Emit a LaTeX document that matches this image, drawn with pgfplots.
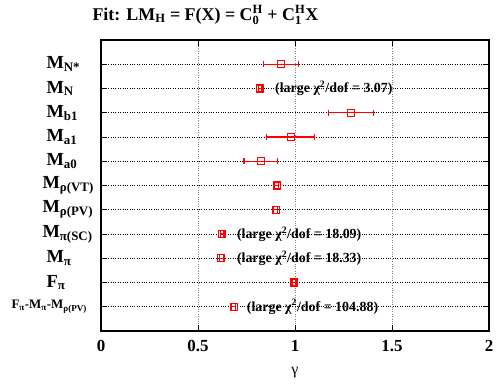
\documentclass[border=0pt]{standalone}
\usepackage{fontspec}
\setmainfont{Liberation Serif}
\usepackage{amsmath}
\usepackage{pgfplots}
\pgfplotsset{compat=1.18}
\usepackage{pgfplotstable}

\pgfplotstableread{
x y ex
0.926 11 0.090
0.820 10 0.010
1.289 9 0.115
0.978 8 0.123
0.823 7 0.086
0.906 6 0.010
0.900 5 0.010
0.624 4 0.010
0.620 3 0.010
0.995 2 0.010
0.684 1 0.010
}\datatable

\newcommand{\sub}[1]{$_{\text{#1}}$}
\begin{document}
\begin{tikzpicture}
\begin{axis}[
  scale only axis, width=388bp, height=291bp,
  xmin=0, xmax=2, ymin=0, ymax=12,
  clip=false,
  xtick={0,0.5,1,1.5,2},
  xticklabels={0,0.5,1,1.5,2},
  ytick={1,...,11},
  yticklabels={
    \hspace*{-35bp}{\fontsize{13}{13}\selectfont F\sub{π}-M\sub{π}-M\sub{ρ(PV)}},
    F\sub{π},
    M\sub{π},
    \hspace*{-4bp}M\sub{π(SC)},
    \hspace*{-4bp}M\sub{ρ(PV)},
    \hspace*{-4bp}M\sub{ρ(VT)},
    M\sub{a0},
    M\sub{a1},
    M\sub{b1},
    M\sub{N},
    M\sub{N*}},
  yticklabel style={anchor=west, xshift=-58bp, font=\bfseries\fontsize{18.5}{18.5}\selectfont},
  xticklabel style={font=\bfseries\fontsize{17}{17}\selectfont, yshift=-6bp},
  axis line style={line width=1.5pt},
  tick style={black, line width=1pt},
  major tick length=6bp,
  xmajorgrids, ymajorgrids,
  x grid style={gray, dotted, line width=0.8pt},
  y grid style={black, dotted, line width=0.8pt},
  xlabel={γ},
  xlabel style={at={(rel axis cs:0.5,0)}, anchor=center, yshift=-42bp, font=\fontsize{16}{16}\selectfont},
  title={Fit: LM\sub{H} = F(X) = C$_{\text{0}}^{\text{H}}$ + C$_{\text{1}}^{\text{H}}$X},
  title style={at={(rel axis cs:0,1)}, anchor=base west, xshift=-12bp, yshift=14bp, font=\bfseries\fontsize{18}{18}\selectfont},
]
\addplot[red, line width=1.2pt, mark=square, mark size=3.5bp, only marks,
  error bars/.cd, x dir=both, x explicit, error mark=|,
  error bar style={red, line width=1.3pt},
  error mark options={red, line width=1.2pt, mark size=3bp}]
  table[x=x, y=y, x error=ex] {\datatable};
\begin{scope}[every node/.style={anchor=west, font=\bfseries\fontsize{14}{14}\selectfont, inner sep=0pt}]
\node at (axis cs:0.897,10) {(large χ$^{\text{2}}$/dof = 3.07)};
\node at (axis cs:0.700,4) {(large χ$^{\text{2}}$/dof = 18.09)};
\node at (axis cs:0.700,3) {(large χ$^{\text{2}}$/dof = 18.33)};
\node at (axis cs:0.751,1) {(large χ$^{\text{2}}$/dof = 104.88)};
\end{scope}
\end{axis}
\pgfresetboundingbox
\path[use as bounding box] ([shift={(-101bp,-54bp)}]current axis.south west) rectangle ++(496bp,385bp);
\end{tikzpicture}
\end{document}
